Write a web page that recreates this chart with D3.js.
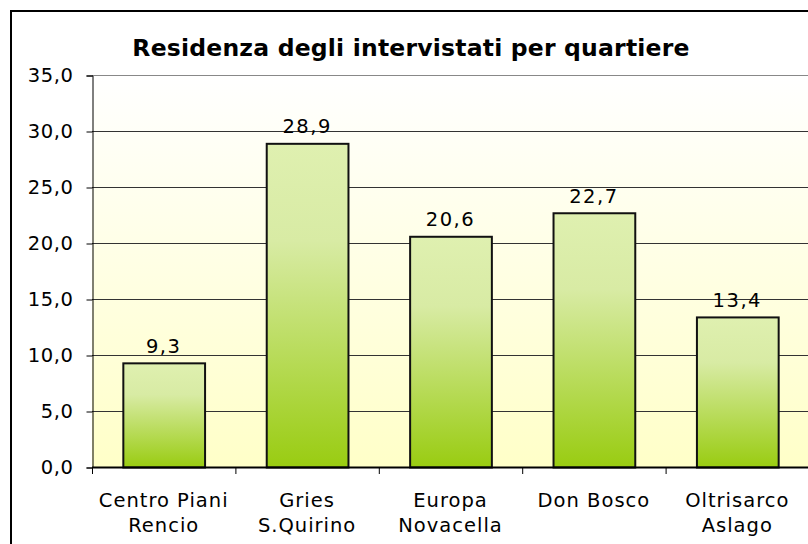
<!DOCTYPE html>
<html>
<head>
<meta charset="utf-8">
<script src="https://cdn.jsdelivr.net/npm/d3@7"></script>
<style>
  body { margin: 0; background: #fff; }
  text { font-family: Verdana, "DejaVu Sans", sans-serif; fill: #000; }
</style>
</head>
<body>
<div id="chart"></div>
<script>
var categories = [["Centro Piani", "Rencio"], ["Gries", "S.Quirino"], ["Europa", "Novacella"], ["Don Bosco"], ["Oltrisarco", "Aslago"]];
var values = [9.3, 28.9, 20.6, 22.7, 13.4];
var yTicks = [0, 5, 10, 15, 20, 25, 30, 35];

var width = 808, height = 544;
var plotLeft = 92, plotRight = 809, plotTop = 75, plotBottom = 467;

var svg = d3.select("#chart").append("svg")
    .attr("width", width)
    .attr("height", height);

var defs = svg.append("defs");
var bg = defs.append("linearGradient").attr("id", "bg")
    .attr("x1", 0).attr("y1", 0).attr("x2", 0).attr("y2", 1);
bg.append("stop").attr("offset", "0%").attr("stop-color", "#ffffff");
bg.append("stop").attr("offset", "100%").attr("stop-color", "#ffffc8");

var bf = defs.append("linearGradient").attr("id", "barfill")
    .attr("x1", 0).attr("y1", 0).attr("x2", 0).attr("y2", 1);
bf.append("stop").attr("offset", "0%").attr("stop-color", "#dff0b0");
bf.append("stop").attr("offset", "30%").attr("stop-color", "#d8eba4");
bf.append("stop").attr("offset", "100%").attr("stop-color", "#99cc11");

// outer frame
svg.append("rect")
    .attr("x", 11).attr("y", 11)
    .attr("width", 820).attr("height", 560)
    .attr("fill", "#fff")
    .attr("stroke", "#000")
    .attr("stroke-width", 2);

var x = d3.scaleBand()
    .domain(d3.range(categories.length))
    .range([plotLeft, plotRight])
    .paddingInner(0.43)
    .paddingOuter(0.215);

var y = d3.scaleLinear().domain([0, 35]).range([plotBottom, plotTop]);

svg.append("rect")
    .attr("x", plotLeft).attr("y", plotTop)
    .attr("width", plotRight - plotLeft).attr("height", plotBottom - plotTop)
    .attr("fill", "url(#bg)");

svg.append("g")
    .selectAll("line")
    .data(yTicks.slice(1))
    .enter()
    .append("line")
    .attr("x1", plotLeft).attr("x2", plotRight)
    .attr("y1", function(d){ return y(d) + 0.5; })
    .attr("y2", function(d){ return y(d) + 0.5; })
    .attr("stroke", function(d){ return d === 35 ? "#888" : "#333"; })
    .attr("stroke-width", 1);

var yAxis = svg.append("g")
    .attr("transform", "translate(" + (plotLeft + 0.5) + ",0.5)")
    .call(d3.axisLeft(y).tickValues(yTicks).tickSize(6).tickPadding(13)
        .tickFormat(function(d){ return d3.format(".1f")(d).replace(".", ","); }));
yAxis.select(".domain").attr("stroke", "#000");
yAxis.selectAll(".tick line").attr("stroke", "#000");
yAxis.selectAll("text").style("font-size", "19.5px")
    .style("letter-spacing", "0.6px")
    .style("font-family", "Verdana, 'DejaVu Sans', sans-serif");

svg.append("g")
    .selectAll("rect")
    .data(values)
    .enter()
    .append("rect")
    .attr("x", function(d, i){ return x(i) + 0.5; })
    .attr("y", function(d){ return y(d) + 0.5; })
    .attr("width", x.bandwidth())
    .attr("height", function(d){ return plotBottom - y(d); })
    .attr("fill", "url(#barfill)")
    .attr("stroke", "#111")
    .attr("stroke-width", 2);

svg.append("g")
    .selectAll("text")
    .data(values)
    .enter()
    .append("text")
    .attr("x", function(d, i){ return x(i) + x.bandwidth() / 2; })
    .attr("y", function(d){ return y(d) - 10; })
    .attr("text-anchor", "middle")
    .style("font-size", "19.5px")
    .style("letter-spacing", "1.5px")
    .text(function(d){ return d3.format(".1f")(d).replace(".", ","); });

// x axis line and ticks between categories
var step = (plotRight - plotLeft) / categories.length;
svg.append("line")
    .attr("x1", plotLeft).attr("x2", plotRight)
    .attr("y1", plotBottom + 0.5).attr("y2", plotBottom + 0.5)
    .attr("stroke", "#000").attr("stroke-width", 2);
svg.append("g")
    .selectAll("line")
    .data(d3.range(categories.length + 1))
    .enter()
    .append("line")
    .attr("x1", function(i){ return plotLeft + i * step + 0.5; })
    .attr("x2", function(i){ return plotLeft + i * step + 0.5; })
    .attr("y1", plotBottom).attr("y2", plotBottom + 7)
    .attr("stroke", "#000");

var labels = svg.append("g")
    .selectAll("text")
    .data(categories)
    .enter()
    .append("text")
    .attr("text-anchor", "middle")
    .style("font-size", "19.5px")
    .style("letter-spacing", "1px");
labels.selectAll("tspan")
    .data(function(d, i){ return d.map(function(s){ return {s: s, i: i}; }); })
    .enter()
    .append("tspan")
    .attr("x", function(d){ return plotLeft + step * (d.i + 0.5); })
    .attr("y", function(d, j){ return 507 + j * 25; })
    .text(function(d){ return d.s; });

svg.append("text")
    .attr("x", 411)
    .attr("y", 56)
    .attr("text-anchor", "middle")
    .style("font-size", "23.5px")
    .style("font-weight", "bold")
    .style("letter-spacing", "0.2px")
    .text("Residenza degli intervistati per quartiere");
</script>
</body>
</html>
